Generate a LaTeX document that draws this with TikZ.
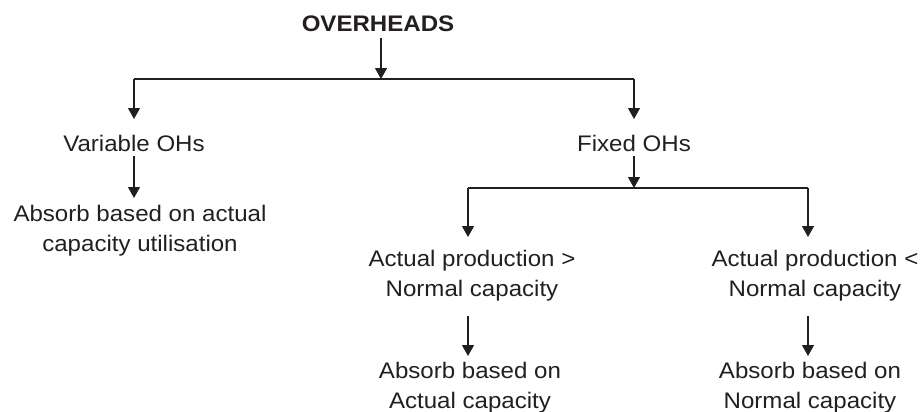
\documentclass[tikz,border=0pt]{standalone}
\usepackage{fontspec}
\setmainfont[FakeStretch=1.07]{Liberation Sans}
\usetikzlibrary{arrows.meta, positioning, calc}
\definecolor{inkgray}{HTML}{231F20}

\begin{document}
\begin{tikzpicture}[
    x=0.5pt, y=-0.5pt,
    lbl/.style={inner sep=0pt, anchor=north, align=center, text=inkgray, font=\fontsize{11.25}{14.75}\selectfont},
    link/.style={draw=inkgray, line width=0.65pt},
    arr/.style={link, -{Triangle[length=5.5pt, width=6pt]}},
]
\useasboundingbox (0,0) rectangle (922,412);

% Levels of the tree
\node[lbl, font=\fontsize{11.25}{14.75}\selectfont\bfseries] (oh) at (378,15) {OVERHEADS};
\node[lbl] (var) at (134,135) {Variable OHs};
\node[lbl] (fixed) at (634,135) {Fixed OHs};
\node[lbl] (varabs) at (140,205) {Absorb based on actual\\capacity utilisation};
\node[lbl] (hi) at (472,250) {Actual production >\\Normal capacity};
\node[lbl] (lo) at (815,250) {Actual production <\\Normal capacity};
\node[lbl] (hiabs) at (470,362) {Absorb based on\\Actual capacity};
\node[lbl] (loabs) at (810,362) {Absorb based on\\Normal capacity};

% Junctions
\coordinate (split1) at (381,79);
\coordinate (split2) at (634,188);
\coordinate (colhi) at (468,188);
\coordinate (collo) at (808,188);

% Connectors
\draw[arr, shorten <=3pt] (oh.south -| split1) -- (split1);
\draw[link] (var |- split1) -- (fixed |- split1);
\draw[arr, shorten >=8pt] (var |- split1) -- (var.north);
\draw[arr, shorten >=8pt] (fixed |- split1) -- (fixed.north);
\draw[arr, shorten <=2pt, shorten >=3.5pt] (var.south) -- (var.south |- varabs.north);
\draw[arr, shorten <=2pt] (fixed.south) -- (split2);
\draw[link] (colhi) -- (collo);
\draw[arr, shorten >=6.5pt] (colhi) -- (colhi |- hi.north);
\draw[arr, shorten >=6.5pt] (collo) -- (collo |- lo.north);
\draw[arr, shorten <=7.5pt, shorten >=3pt] (colhi |- hi.south) -- (colhi |- hiabs.north);
\draw[arr, shorten <=7.5pt, shorten >=3pt] (collo |- lo.south) -- (collo |- loabs.north);

\end{tikzpicture}
\end{document}
